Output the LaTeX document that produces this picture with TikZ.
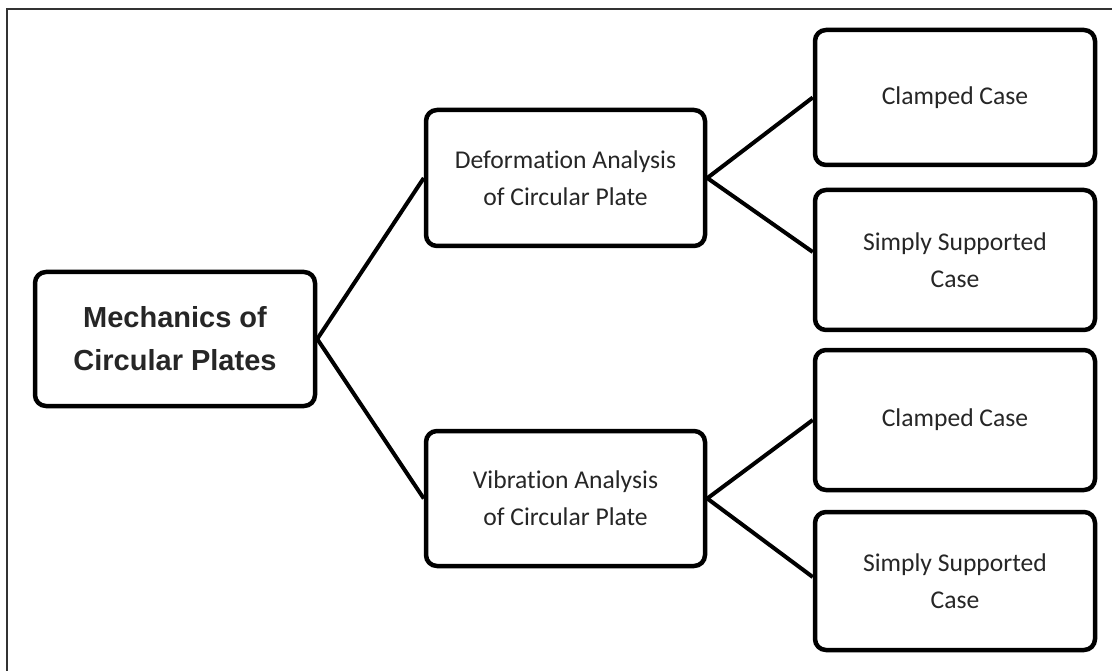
\documentclass[tikz,border=0pt]{standalone}
\usepackage{fontspec}
\setmainfont{Carlito}[Ligatures=NoCommon]
\newfontfamily\arialfont{Liberation Sans}
\begin{document}
\begin{tikzpicture}[x=1pt,y=1pt,
  box/.style={draw=black, line width=4.5pt, rounded corners=11pt, fill=white,
    align=center, inner sep=0pt, text=black!85, minimum width=280pt},
  small/.style={font=\fontsize{25.6}{37}\selectfont},
  big/.style={font=\arialfont\bfseries\fontsize{29}{43}\selectfont},
  link/.style={draw=black, line width=4pt}]
\useasboundingbox (0,0) rectangle (1112,-671);
\draw[line width=1.6pt, black!80] (7,-671) -- (7,-9) -- (1112,-9);

\node[box, big, minimum height=134pt] (root) at (175,-339) {Mechanics of\\Circular Plates};
\node[box, small, minimum width=279pt, minimum height=136pt] (def) at (565.5,-178) {Deformation Analysis\\of Circular Plate};
\node[box, small, minimum width=279pt, minimum height=135pt] (vib) at (565.5,-498.5) {Vibration Analysis\\of Circular Plate};
\node[box, small, minimum height=135pt] (c1) at (955,-97.5) {Clamped Case};
\node[box, small, minimum height=140pt] (s1) at (955,-260) {Simply Supported\\Case};
\node[box, small, minimum height=140pt] (c2) at (955,-420) {Clamped Case};
\node[box, small, minimum height=138pt] (s2) at (955,-581) {Simply Supported\\Case};

\draw[link] (root.east) -- (def.west);
\draw[link] (root.east) -- (vib.west);
\draw[link] (def.east) -- (c1.west);
\draw[link] (def.east) -- ([yshift=8pt]s1.west);
\draw[link] (vib.east) -- (c2.west);
\draw[link] (vib.east) -- ([yshift=4pt]s2.west);
\end{tikzpicture}
\end{document}
